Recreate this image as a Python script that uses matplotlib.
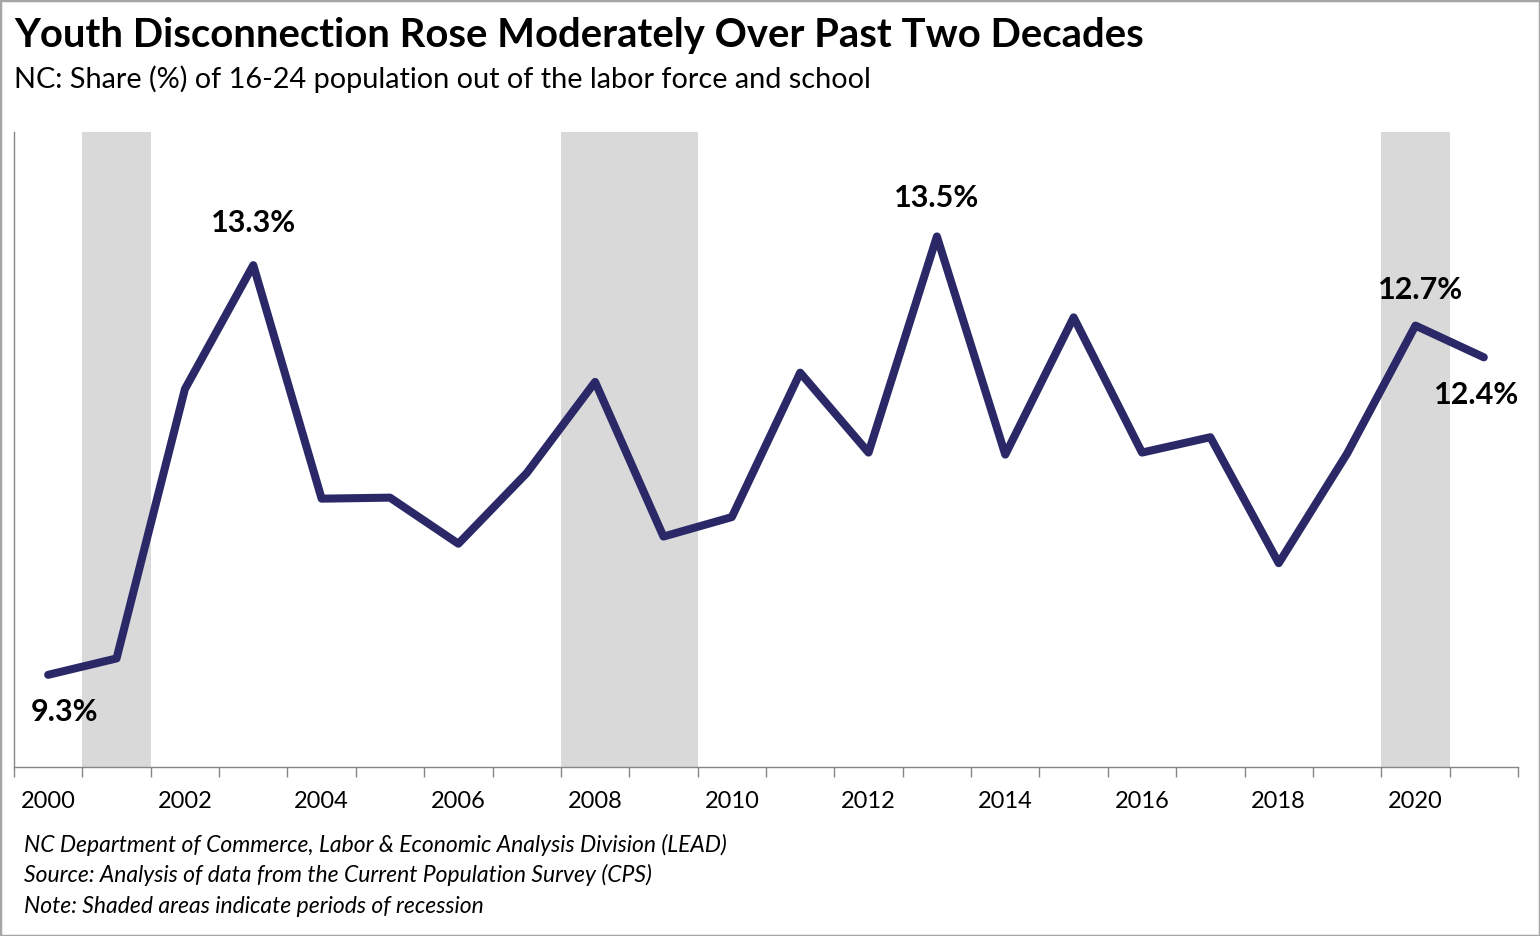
import matplotlib.pyplot as plt
import numpy as np
from matplotlib.patches import Rectangle

plt.rcParams['font.family'] = ['Lato', 'DejaVu Sans']

# data
years = list(range(2000, 2022))
share = [9.30, 9.46, 12.09, 13.30, 11.02, 11.03, 10.58, 11.27, 12.16, 10.65, 10.84,
         12.25, 11.47, 13.58, 11.45, 12.79, 11.47, 11.62, 10.39, 11.46, 12.71, 12.40]
recessions = [(2001, 2001), (2008, 2009), (2020, 2020)]
label_years = [2000, 2003, 2013, 2020, 2021]
label_text = ['9.3%', '13.3%', '13.5%', '12.7%', '12.4%']

W, H = 1540, 936
fig = plt.figure(figsize=(W / 100, H / 100), dpi=100)
ax = fig.add_axes([14 / W, 1 - 767 / H, 1504 / W, 635 / H])

x = np.arange(len(years)) + 0.5
for start, end in recessions:
    ax.axvspan(years.index(start), years.index(end) + 1, color='#d9d9d9', lw=0, zorder=0)

ax.plot(x, share, color='#2b2868', lw=5.8, solid_joinstyle='round',
        solid_capstyle='round', zorder=3)

# point labels (pixel offsets from the point)
offsets = {2000: (16, -37), 2003: (0, 42), 2013: (0, 38), 2020: (5, 36), 2021: (-7, -38)}
for yr, txt in zip(label_years, label_text):
    i = years.index(yr)
    ax.annotate(txt, (x[i], share[i]), xytext=offsets[yr], textcoords='offset pixels',
                ha='center', va='center', fontsize=22, fontweight='bold', color='black',
                zorder=4)

ax.set_xlim(0, len(years))
ax.set_ylim(8.4, 14.6)
ax.set_yticks([])
ax.set_xticks(np.arange(len(years) + 1))
ax.set_xticklabels([])
ax.tick_params(axis='x', which='major', length=7, width=1, color='#868686')
ax.set_xticks(x[::2], minor=True)
ax.set_xticklabels([str(y) for y in years[::2]], minor=True, fontsize=17)
ax.tick_params(axis='x', which='minor', length=0, pad=17)

for s in ['top', 'right']:
    ax.spines[s].set_visible(False)
for s in ['left', 'bottom']:
    ax.spines[s].set_color('#868686')
    ax.spines[s].set_linewidth(1)

fig.text(14 / W, 1 - 47 / H, 'Youth Disconnection Rose Moderately Over Past Two Decades',
         fontsize=28.8, fontweight='bold', va='baseline')
fig.text(14 / W, 1 - 88 / H, 'NC: Share (%) of 16-24 population out of the labor force and school',
         fontsize=20.8, va='baseline')

notes = ['NC Department of Commerce, Labor & Economic Analysis Division (LEAD)',
         'Source: Analysis of data from the Current Population Survey (CPS)',
         'Note: Shaded areas indicate periods of recession']
for k, n in enumerate(notes):
    fig.text(24 / W, 1 - (852 + 30.5 * k) / H, n, fontsize=16.5, style='italic', va='baseline')

fig.patches.append(Rectangle((0, 0), 1, 1, transform=fig.transFigure, fill=False,
                             ec='#a6a6a6', lw=2.5))

fig.savefig('out.png', dpi=100)
